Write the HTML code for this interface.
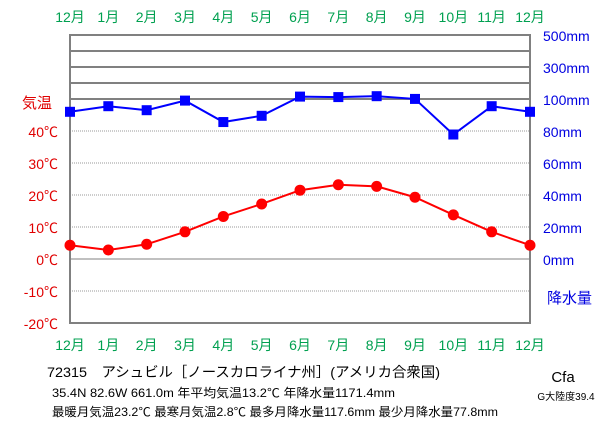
<!DOCTYPE html>
<html><head><meta charset="utf-8"><style>
body{margin:0;background:#fff;width:611px;height:425px;overflow:hidden}
svg{font-family:"Liberation Sans","Noto Sans CJK JP",sans-serif}
</style></head><body>
<svg id="c" width="611" height="425"></svg>
<script>
const months=["12月","1月","2月","3月","4月","5月","6月","7月","8月","9月","10月","11月","12月"];
const temps=[4.3,2.8,4.6,8.5,13.3,17.2,21.5,23.2,22.7,19.3,13.8,8.5,4.3];
const precip=[92,95.5,93,99,85.6,89.5,115,112,117.6,100.5,77.8,95.5,92];
const tempTicks=[40,30,20,10,0,-10,-20];
const precipTicks=[100,80,60,40,20,0];
const precipHigh=[300,500];
const NS="http://www.w3.org/2000/svg";
const svg=document.getElementById('c');
const X0=70,X1=530;
const xs=i=>X0+(X1-X0)*i/12;
const yT=t=>259-t*3.2;
const yP=p=>p<=100?259-p*1.6:99-(p-100)*0.16;
function el(tag,attrs,name,text){const e=document.createElementNS(NS,tag);for(const k in attrs)e.setAttribute(k,attrs[k]);


if(text!==undefined)e.textContent=text;svg.appendChild(e);return e;}
tempTicks.forEach(t=>{const y=yT(t);if(t===0)el('line',{x1:X0,x2:X1,y1:y,y2:y,stroke:'#808080','stroke-width':1},'zero-line');else if(t!==-20)el('line',{x1:X0,x2:X1,y1:y,y2:y,stroke:'#999','stroke-width':1,'stroke-dasharray':'1,1'},'grid-line');});
[100,200,300,400,500].forEach(p=>el('line',{x1:X0,x2:X1,y1:yP(p),y2:yP(p),stroke:'#808080','stroke-width':2},'precip-high-line'));
el('rect',{x:X0,y:35,width:X1-X0,height:288,fill:'none',stroke:'#808080','stroke-width':2},'plot-frame');
months.forEach((m,i)=>{el('text',{x:xs(i),y:22,'text-anchor':'middle','font-size':14,fill:'#00a050'},'month-label-top',m);
el('text',{x:xs(i),y:350,'text-anchor':'middle','font-size':14,fill:'#00a050'},'month-label-bottom',m);});
tempTicks.forEach(t=>el('text',{x:58,y:yT(t)+6,'text-anchor':'end','font-size':14,fill:'#e00000'},'temp-tick',t+'℃'));
el('text',{x:22,y:108,'font-size':15,fill:'#e00000'},'temp-axis-title','気温');
precipTicks.forEach(p=>el('text',{x:543,y:yP(p)+6,'font-size':14,fill:'#0000e0'},'precip-tick',p+'mm'));
precipHigh.forEach(p=>el('text',{x:543,y:yP(p)+6,'font-size':14,fill:'#0000e0'},'precip-tick',p+'mm'));
el('text',{x:547,y:303,'font-size':15,fill:'#0000e0'},'precip-axis-title','降水量');
el('polyline',{points:precip.map((p,i)=>xs(i)+','+yP(p)).join(' '),fill:'none',stroke:'#0000ff','stroke-width':2},'precip-line');
precip.forEach((p,i)=>el('rect',{x:xs(i)-5,y:yP(p)-5,width:10,height:10,fill:'#0000ff'},'precip-point'));
el('polyline',{points:temps.map((t,i)=>xs(i)+','+yT(t)).join(' '),fill:'none',stroke:'#ff0000','stroke-width':2},'temp-line');
temps.forEach((t,i)=>el('circle',{cx:xs(i),cy:yT(t),r:5.5,fill:'#ff0000'},'temp-point'));
el('text',{x:47,y:377,'font-size':14,fill:'#000',textLength:393,lengthAdjust:'spacingAndGlyphs'},'station-title','72315　アシュビル［ノースカロライナ州］(アメリカ合衆国)');
el('text',{x:52,y:397,'font-size':12,fill:'#000',textLength:343,lengthAdjust:'spacingAndGlyphs'},'station-stats','35.4N  82.6W  661.0m  年平均気温13.2℃  年降水量1171.4mm');
el('text',{x:52,y:416,'font-size':12,fill:'#000',textLength:446,lengthAdjust:'spacingAndGlyphs'},'station-extremes','最暖月気温23.2℃ 最寒月気温2.8℃ 最多月降水量117.6mm 最少月降水量77.8mm');
el('text',{x:563,y:382,'text-anchor':'middle','font-size':15,fill:'#000'},'climate-class','Cfa');
el('text',{x:566,y:400,'text-anchor':'middle','font-size':10,fill:'#000'},'continentality','G大陸度39.4');
</script>
</body></html>
